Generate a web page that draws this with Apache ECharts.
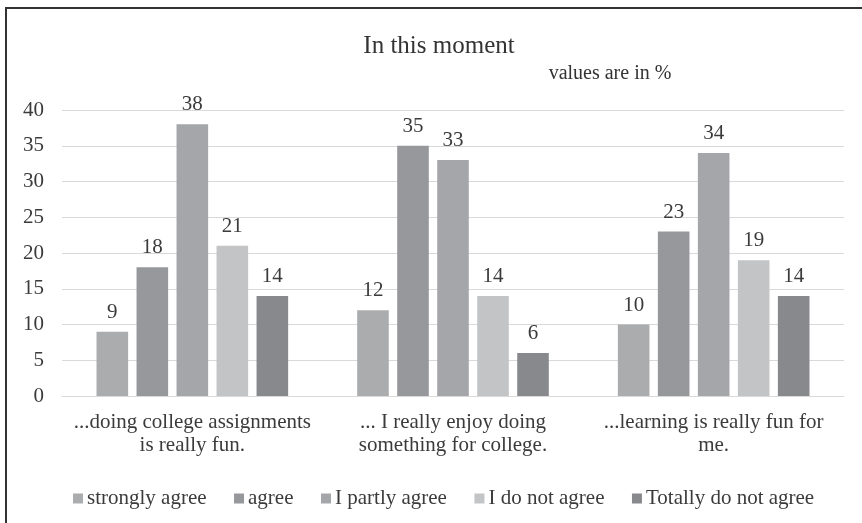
<!DOCTYPE html>
<html>
<head>
<meta charset="utf-8">
<script src="https://cdn.jsdelivr.net/npm/echarts@6/dist/echarts.min.js"></script>
<style>html,body{margin:0;padding:0;background:#fff;}#chart{width:862px;height:523px;}</style>
</head>
<body>
<div id="chart"></div>
<script>
const categories = ['...doing college assignments\nis really fun.', '... I really enjoy doing\nsomething for college.', '...learning is really fun for\nme.'];
const seriesNames = ['strongly agree', 'agree', 'I partly agree', 'I do not agree', 'Totally do not agree'];
const stronglyAgree = [9, 12, 10];
const agree = [18, 35, 23];
const partlyAgree = [38, 33, 34];
const doNotAgree = [21, 14, 19];
const totallyDoNotAgree = [14, 6, 14];
const yTicks = { min: 0, max: 40, interval: 5 };

const colors = ['#abacae', '#97989b', '#a5a6a9', '#c3c4c6', '#88898c'];
const seriesValues = [stronglyAgree, agree, partlyAgree, doNotAgree, totallyDoNotAgree];
const FONT = '"Liberation Serif", "Times New Roman", serif';
const TXT = '#3b3b3b';

const chart = echarts.init(document.getElementById('chart'), null, { renderer: 'canvas' });
chart.setOption({
  animation: false,
  backgroundColor: '#ffffff',
  color: colors,
  title: [
    { text: 'In this moment', left: 434, top: 29, textAlign: 'center',
      textStyle: { fontFamily: FONT, fontSize: 25, fontWeight: 'normal', color: '#333333' } },
    { text: 'values are in %', left: 605, top: 59, textAlign: 'center',
      textStyle: { fontFamily: FONT, fontSize: 20, fontWeight: 'normal', color: '#333333' } }
  ],
  legend: {
    data: seriesNames,
    left: 68, top: 483,
    itemWidth: 10, itemHeight: 10, itemGap: 27.5,
    icon: 'rect',
    textStyle: { fontFamily: FONT, fontSize: 21, color: TXT, padding: [0, 0, 0, -1] }
  },
  grid: { left: 62, right: 18, top: 110, bottom: 127, containLabel: false },
  xAxis: {
    type: 'category',
    data: categories,
    axisLine: { show: true, lineStyle: { color: '#d9d9d9', width: 1 } },
    axisTick: { show: false },
    axisLabel: { fontFamily: FONT, fontSize: 21, color: TXT, margin: 15, lineHeight: 23, interval: 0 }
  },
  yAxis: {
    type: 'value',
    min: yTicks.min, max: yTicks.max, interval: yTicks.interval,
    axisLine: { show: false },
    axisTick: { show: false },
    splitLine: { lineStyle: { color: '#d9d9d9', width: 1 } },
    axisLabel: { fontFamily: FONT, fontSize: 21, color: TXT, margin: 18 }
  },
  graphic: [
    { type: 'polyline', shape: { points: [[6, 523], [6, 8], [862, 8]] },
      style: { stroke: '#333333', lineWidth: 2, fill: null }, silent: true }
  ],
  series: seriesNames.map((name, i) => ({
    name: name,
    type: 'bar',
    data: seriesValues[i],
    barWidth: 31.6,
    barGap: '26.6%',
    itemStyle: { color: colors[i] },
    label: { show: true, position: 'top', distance: 9, fontFamily: FONT, fontSize: 21, color: TXT }
  }))
});
</script>
</body>
</html>
